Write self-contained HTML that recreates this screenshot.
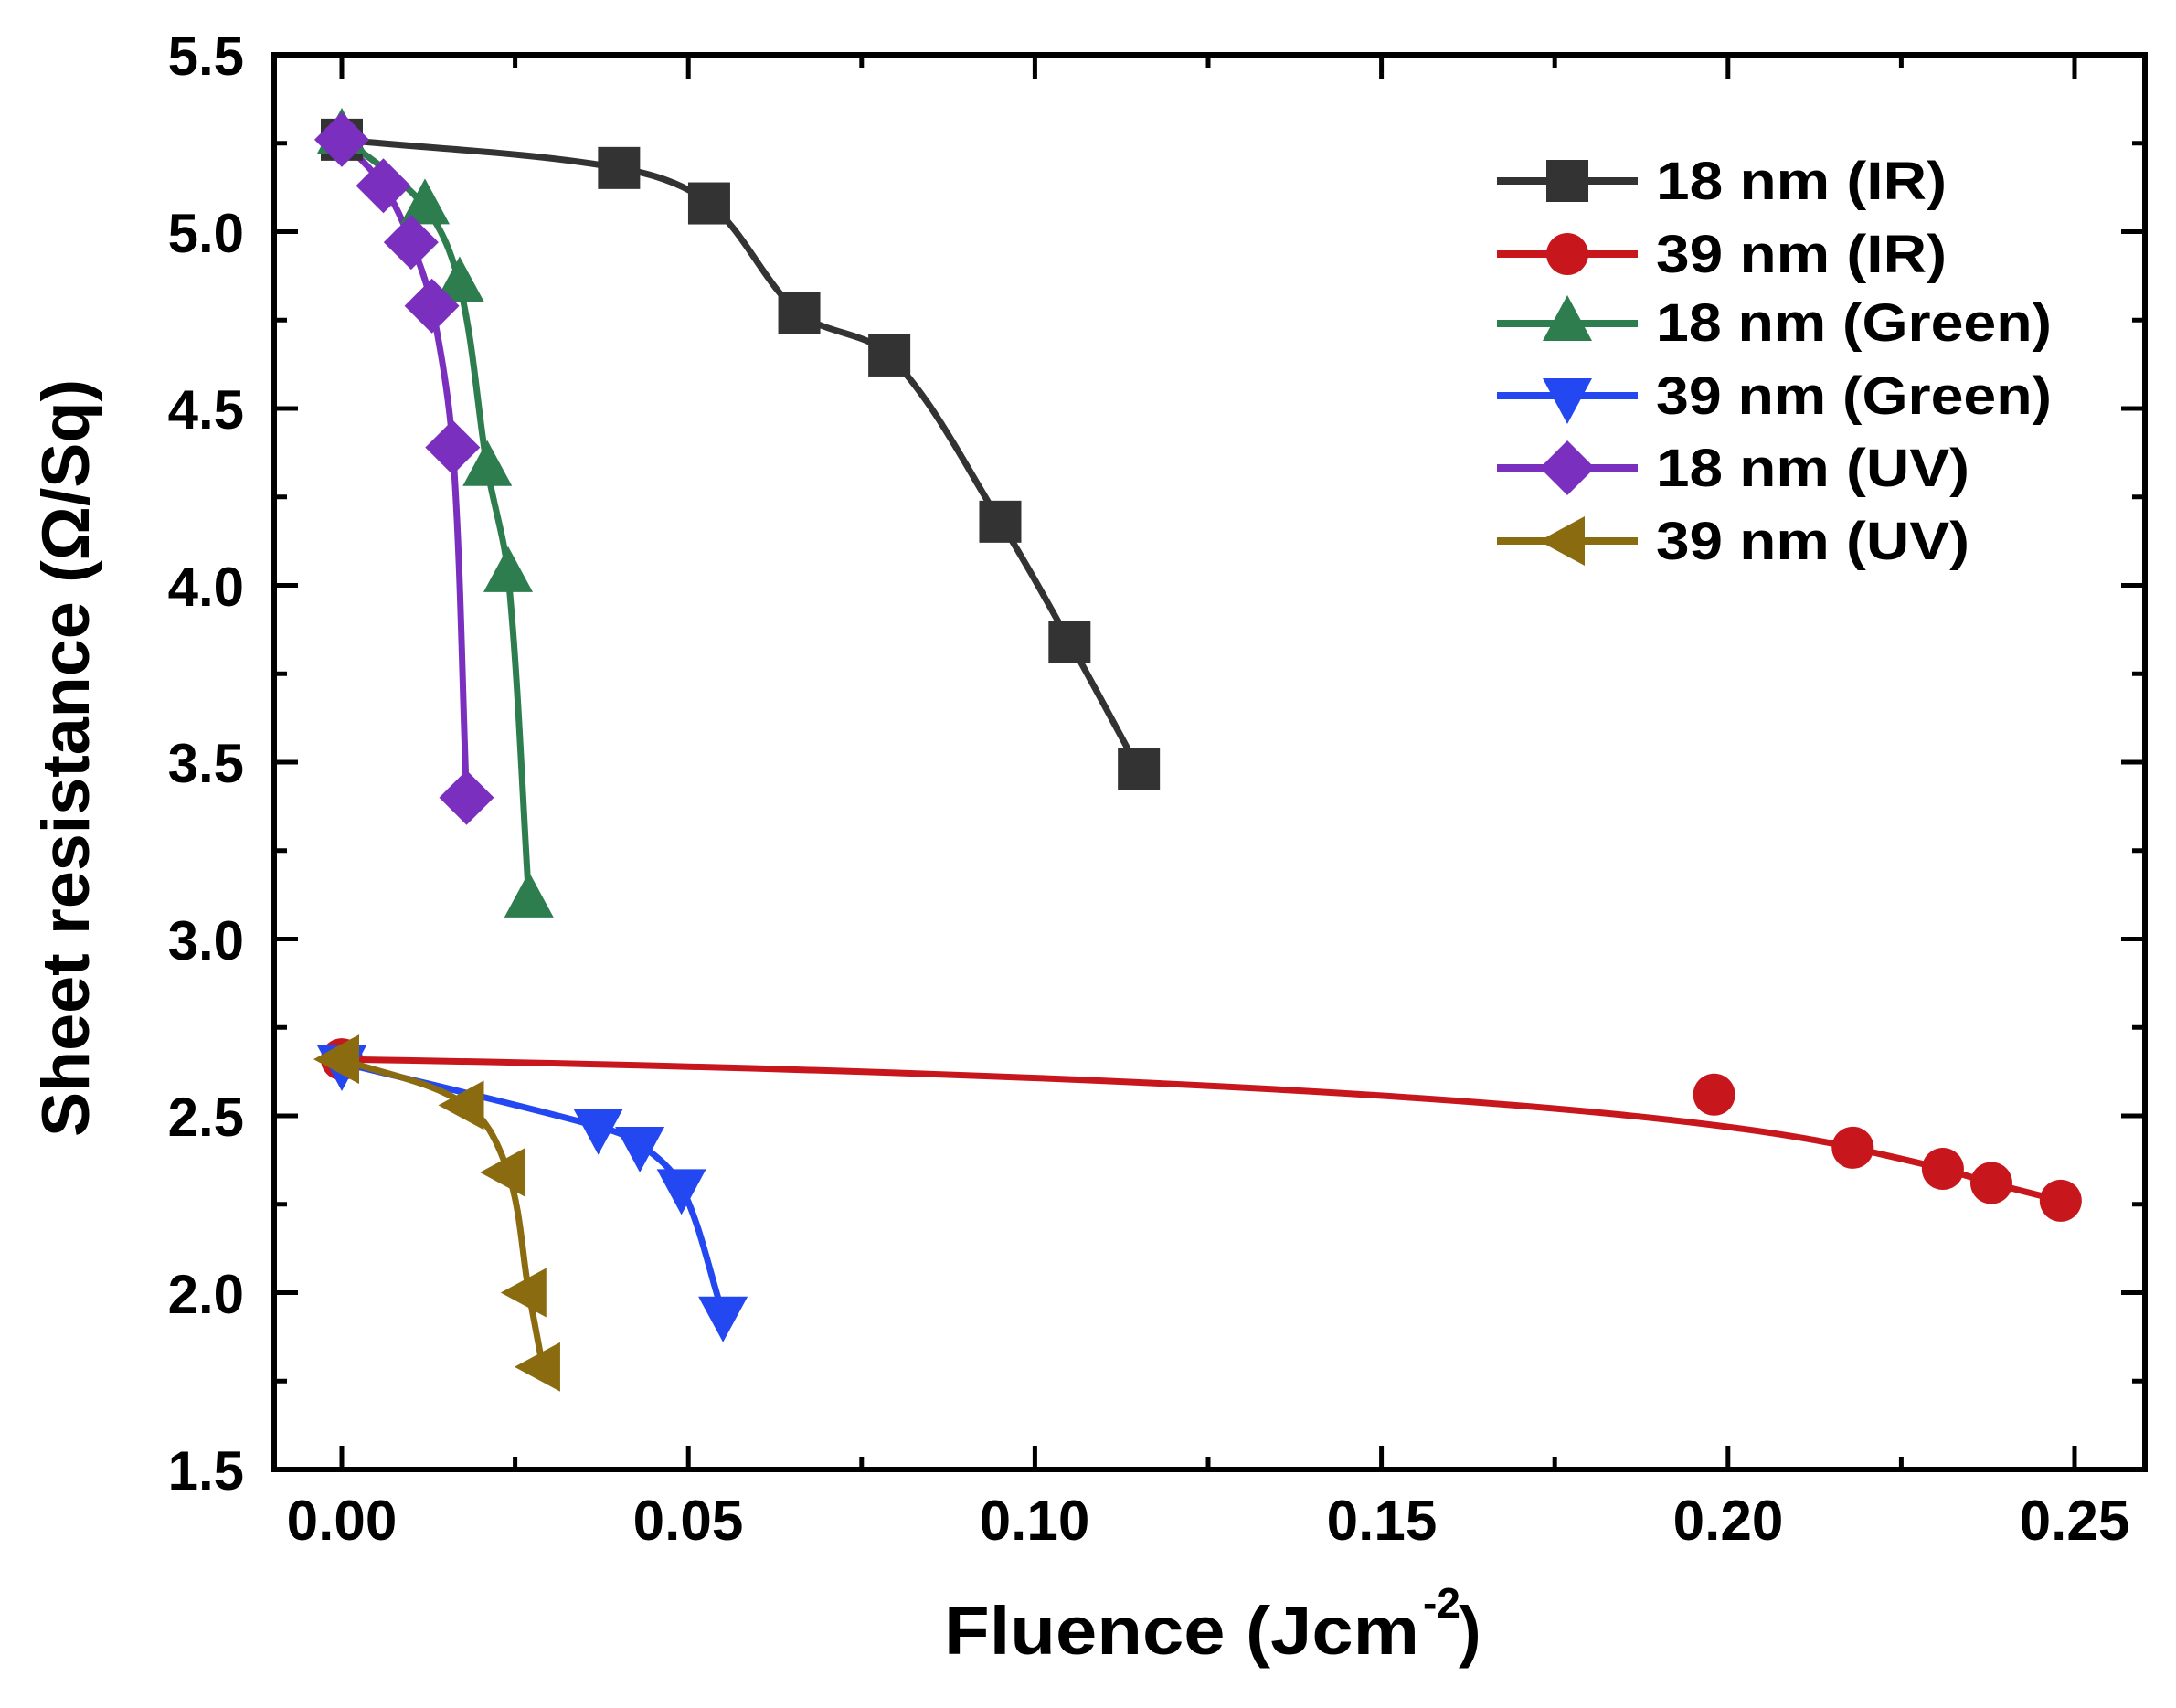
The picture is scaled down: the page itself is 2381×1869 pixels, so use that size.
<!DOCTYPE html>
<html><head><meta charset="utf-8"><style>
html,body{margin:0;padding:0;background:#fff}
svg{display:block}
text{font-family:"Liberation Sans",Arial,sans-serif;font-weight:bold;fill:#000}
</style></head><body>
<svg id="s" width="2381" height="1869" viewBox="0 0 2381 1869" xmlns="http://www.w3.org/2000/svg">
<rect width="2381" height="1869" fill="#fff"/>
<g id="ticks" stroke="#000" stroke-width="5"></g>
<g id="data"></g>
<rect x="300" y="60" width="2047" height="1548" fill="none" stroke="#000" stroke-width="6"/>
<g font-size="60" text-anchor="end">
<text x="267" y="82">5.5</text>
<text x="267" y="276">5.0</text>
<text x="267" y="469">4.5</text>
<text x="267" y="663">4.0</text>
<text x="267" y="856">3.5</text>
<text x="267" y="1050">3.0</text>
<text x="267" y="1243">2.5</text>
<text x="267" y="1437">2.0</text>
<text x="267" y="1630">1.5</text>
</g>
<g font-size="62" text-anchor="middle">
<text x="374" y="1685">0.00</text>
<text x="753" y="1685">0.05</text>
<text x="1132" y="1685">0.10</text>
<text x="1512" y="1685">0.15</text>
<text x="1891" y="1685">0.20</text>
<text x="2270" y="1685">0.25</text>
</g>
<text x="1033" y="1810" font-size="74" textLength="520" lengthAdjust="spacingAndGlyphs">Fluence (Jcm</text>
<text x="1557" y="1770" font-size="46">-2</text>
<text x="1596" y="1810" font-size="74">)</text>
<text transform="translate(97,1244) rotate(-90)" font-size="73" textLength="829" lengthAdjust="spacingAndGlyphs">Sheet resistance (Ω/Sq)</text>
<g font-size="58">
<text x="1812" y="218" textLength="318" lengthAdjust="spacingAndGlyphs">18 nm (IR)</text>
<text x="1812" y="298" textLength="318" lengthAdjust="spacingAndGlyphs">39 nm (IR)</text>
<text x="1812" y="373" textLength="433" lengthAdjust="spacingAndGlyphs">18 nm (Green)</text>
<text x="1812" y="453" textLength="433" lengthAdjust="spacingAndGlyphs">39 nm (Green)</text>
<text x="1812" y="532" textLength="343" lengthAdjust="spacingAndGlyphs">18 nm (UV)</text>
<text x="1812" y="612" textLength="343" lengthAdjust="spacingAndGlyphs">39 nm (UV)</text>
</g>
</svg>
<script>
(function(){
var NS="http://www.w3.org/2000/svg";
function X(x){return 374+x*7584;}
function Y(y){return 60+(5.5-y)*387;}
function el(p,t,a){var e=document.createElementNS(NS,t);for(var k in a)e.setAttribute(k,a[k]);p.appendChild(e);return e;}
var tk=document.getElementById('ticks');
for(var i=0;i<=10;i++){var x=X(i*0.025);var L=(i%2==0)?26:14;
 el(tk,'line',{x1:x,y1:1608,x2:x,y2:1608-L});el(tk,'line',{x1:x,y1:60,x2:x,y2:60+L});}
for(var j=0;j<=16;j++){var y=Y(1.5+j*0.25);var L=(j%2==0)?26:14;
 el(tk,'line',{x1:300,y1:y,x2:300+L,y2:y});el(tk,'line',{x1:2347,y1:y,x2:2347-L,y2:y});}
var g=document.getElementById('data');
function dist(a,b){return Math.hypot(a[0]-b[0],a[1]-b[1]);}
function cr(pts){var n=pts.length,T=[];
 for(var i=0;i<n;i++){var a=pts[Math.max(0,i-1)],b=pts[Math.min(n-1,i+1)];var dx=b[0]-a[0],dy=b[1]-a[1],l=Math.hypot(dx,dy)||1;T.push([dx/l,dy/l]);}
 var d="M"+pts[0][0]+","+pts[0][1];
 for(var i=0;i<n-1;i++){var p1=pts[i],p2=pts[i+1],s=dist(p1,p2)/3;
  d+=" C"+(p1[0]+T[i][0]*s)+","+(p1[1]+T[i][1]*s)+" "+(p2[0]-T[i+1][0]*s)+","+(p2[1]-T[i+1][1]*s)+" "+p2[0]+","+p2[1];}
 return d;}
function mk(type,x,y,c){var s=23;
 if(type=='sq')el(g,'rect',{x:x-s,y:y-s,width:2*s,height:2*s,fill:c});
 else if(type=='ci')el(g,'circle',{cx:x,cy:y,r:23,fill:c});
 else if(type=='up')el(g,'polygon',{points:(x)+","+(y-31)+" "+(x+27)+","+(y+19)+" "+(x-27)+","+(y+19),fill:c});
 else if(type=='dn')el(g,'polygon',{points:(x)+","+(y+31)+" "+(x+27)+","+(y-19)+" "+(x-27)+","+(y-19),fill:c});
 else if(type=='di')el(g,'polygon',{points:x+","+(y-30)+" "+(x+30)+","+y+" "+x+","+(y+30)+" "+(x-30)+","+y,fill:c});
 else if(type=='lf')el(g,'polygon',{points:(x-31)+","+y+" "+(x+19)+","+(y-27)+" "+(x+19)+","+(y+27),fill:c});}
var S=[
 ['#333333','sq',[[0,5.26],[0.04,5.18],[0.053,5.08],[0.066,4.77],[0.079,4.65],[0.095,4.18],[0.105,3.84],[0.115,3.48]]],
 ['#2e7d4f','up',[[0,5.27],[0.012,5.07],[0.017,4.85],[0.021,4.33],[0.024,4.03],[0.027,3.11]]],
 ['#2347f0','dn',[[0,2.65],[0.037,2.47],[0.043,2.42],[0.049,2.30],[0.055,1.94]]],
 ['#7b2fbe','di',[[0,5.26],[0.006,5.13],[0.01,4.97],[0.013,4.79],[0.016,4.39],[0.018,3.40]]],
 ['#8a6b10','lf',[[0,2.66],[0.018,2.53],[0.024,2.34],[0.027,2.00],[0.029,1.79]]]
];
var red='#c8161d';
var rp=[[0.218,2.41],[0.231,2.35],[0.238,2.31],[0.248,2.26]].map(function(p){return [X(p[0]),Y(p[1])];});
var d="M"+X(0)+","+Y(2.66)+" C"+X(0.12)+","+Y(2.62)+" "+X(0.19)+","+Y(2.53)+" "+X(0.218)+","+Y(2.41);
d+=cr(rp).replace(/^M[^ ]+/,"");
el(g,'path',{d:d,fill:'none',stroke:red,'stroke-width':7});
[[0,2.66],[0.198,2.56],[0.218,2.41],[0.231,2.35],[0.238,2.31],[0.248,2.26]].forEach(function(p){mk('ci',X(p[0]),Y(p[1]),red);});
S.forEach(function(s){var pts=s[2].map(function(p){return [X(p[0]),Y(p[1])];});
 el(g,'path',{d:cr(pts),fill:'none',stroke:s[0],'stroke-width':7});});
S.forEach(function(s){s[2].forEach(function(p){mk(s[1],X(p[0]),Y(p[1]),s[0]);});});
var lg=[['#333333','sq',198],[red,'ci',278],['#2e7d4f','up',354],['#2347f0','dn',433],['#7b2fbe','di',512],['#8a6b10','lf',592]];
lg.forEach(function(l){el(g,'line',{x1:1638,y1:l[2],x2:1792,y2:l[2],stroke:l[0],'stroke-width':8});mk(l[1],1715,l[2],l[0]);});
})();
</script>
</body></html>
